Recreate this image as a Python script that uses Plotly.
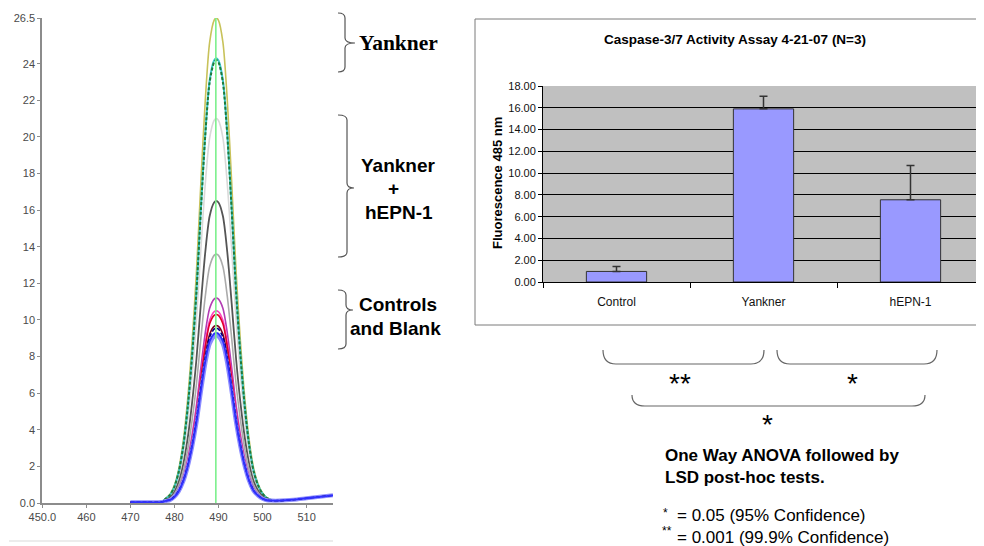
import plotly.graph_objects as go

# The page body adds an 8 px margin, so the figure is sized to fill the rest of the window.
OFF = 8
W, H = 984 - OFF, 546 - OFF

# ---------------- data: spectra (left panel) ----------------
wavelength = [470, 474, 477, 478, 479, 480, 481, 482, 483, 484, 485, 486, 487, 488, 489, 489.5,
              490, 491, 492, 493, 494, 495, 496, 497, 498, 499, 500, 501, 502, 504, 507,
              510, 513, 516]
head = [0.04, 0.04, 0.05]
tail = [0.13, 0.18, 0.26, 0.34, 0.42]

s_olive = [0.25, 0.48, 0.98, 1.88, 3.39, 5.67, 8.77, 12.64, 17.49, 22.00, 25.18, 26.37, 26.5, 26.37, 25.18,
           22.00, 17.49, 12.64, 8.77, 5.67, 3.39, 1.88, 1.04, 0.55, 0.29, 0.18]
s_cyan = [0.23, 0.44, 0.90, 1.73, 3.11, 5.20, 8.04, 11.59, 16.04, 20.17, 23.09, 24.18, 24.3, 24.18, 23.09,
          20.17, 16.04, 11.59, 8.04, 5.20, 3.11, 1.73, 0.96, 0.51, 0.27, 0.17]
s_green = [0.23, 0.44, 0.90, 1.72, 3.10, 5.18, 8.01, 11.54, 15.97, 20.09, 22.99, 24.08, 24.2, 24.08, 22.99,
           20.09, 15.97, 11.54, 8.01, 5.18, 3.10, 1.72, 0.96, 0.51, 0.27, 0.17]
s_ltgray = [0.21, 0.38, 0.78, 1.49, 2.69, 4.49, 6.95, 10.02, 13.86, 17.43, 19.95, 20.90, 21.0, 20.90, 19.95,
            17.43, 13.86, 10.02, 6.95, 4.49, 2.69, 1.49, 0.84, 0.45, 0.25, 0.16]
s_dkgray = [0.17, 0.30, 0.61, 1.17, 2.11, 3.53, 5.46, 7.87, 10.89, 13.70, 15.68, 16.42, 16.5, 16.42, 15.68,
            13.70, 10.89, 7.87, 5.46, 3.53, 2.11, 1.17, 0.67, 0.37, 0.21, 0.15]
s_gray = [0.15, 0.24, 0.50, 0.97, 1.74, 2.91, 4.50, 6.49, 8.98, 11.29, 12.92, 13.53, 13.6, 13.53, 12.92,
          11.29, 8.98, 6.49, 4.50, 2.91, 1.74, 0.97, 0.56, 0.31, 0.19, 0.14]
s_purple = [0.13, 0.20, 0.41, 0.80, 1.43, 2.40, 3.71, 5.34, 7.39, 9.30, 10.64, 11.14, 11.2, 11.14, 10.64,
            9.30, 7.39, 5.34, 3.71, 2.40, 1.43, 0.80, 0.47, 0.27, 0.17, 0.13]
s_magenta = [0.12, 0.19, 0.39, 0.75, 1.34, 2.25, 3.48, 5.01, 6.93, 8.72, 9.98, 10.45, 10.5, 10.45, 9.98,
             8.72, 6.93, 5.01, 3.48, 2.25, 1.34, 0.75, 0.45, 0.26, 0.16, 0.13]
s_red = [0.12, 0.19, 0.38, 0.73, 1.32, 2.20, 3.41, 4.91, 6.80, 8.55, 9.79, 10.25, 10.3, 10.25, 9.79,
         8.55, 6.80, 4.91, 3.41, 2.20, 1.32, 0.73, 0.44, 0.26, 0.16, 0.13]
s_maroon = [0.12, 0.17, 0.36, 0.69, 1.24, 2.08, 3.21, 4.63, 6.40, 8.05, 9.22, 9.65, 9.7, 9.65, 9.22,
            8.05, 6.40, 4.63, 3.21, 2.08, 1.24, 0.69, 0.42, 0.24, 0.16, 0.13]
s_navy = [0.12, 0.17, 0.35, 0.68, 1.22, 2.04, 3.16, 4.56, 6.30, 7.93, 9.07, 9.50, 9.55, 9.50, 9.07,
          7.93, 6.30, 4.56, 3.16, 2.04, 1.22, 0.68, 0.41, 0.24, 0.16, 0.13]
s_blue = [0.11, 0.17, 0.34, 0.66, 1.19, 1.99, 3.08, 4.44, 6.14, 7.72, 8.84, 9.25, 9.3, 9.25, 8.84,
          7.72, 6.14, 4.44, 3.08, 1.99, 1.19, 0.66, 0.40, 0.24, 0.15, 0.13]
s_ltblue = [0.11, 0.16, 0.34, 0.65, 1.17, 1.96, 3.03, 4.36, 6.04, 7.59, 8.69, 9.10, 9.15, 9.10, 8.69,
            7.59, 6.04, 4.36, 3.03, 1.96, 1.17, 0.65, 0.40, 0.23, 0.15, 0.13]

marker_wavelength = 489.4
spec_xticks = [450, 460, 470, 480, 490, 500, 510]
spec_xticktext = ["450.0", "460", "470", "480", "490", "500", "510"]
spec_yticks = [0, 2, 4, 6, 8, 10, 12, 14, 16, 18, 20, 22, 24, 26.5]
spec_yticktext = ["0.0", "2", "4", "6", "8", "10", "12", "14", "16", "18", "20", "22", "24", "26.5"]

# ---------------- data: caspase bars (right panel) ----------------
groups = ["Control", "Yankner", "hEPN-1"]
fluorescence = [0.97, 15.9, 7.55]
fluor_err = [0.45, 1.15, 3.15]

# ---------------- helpers (window pixels -> paper) ----------------
def px(x):
    return (x - OFF) / W

def py(y):
    return 1 - (y - OFF) / H

def pt(x, y):
    return f"{px(x):.5f},{py(y):.5f}"

fig = go.Figure()

series = [
    (s_olive, "#c8c25a", 1.6, "solid"),
    (s_ltgray, "#d9d9d9", 1.6, "solid"),
    (s_cyan, "#3fc8c8", 2.0, "solid"),
    (s_green, "#1f7a3a", 2.0, "3px,2px"),
    (s_dkgray, "#555555", 1.8, "solid"),
    (s_gray, "#ababab", 1.6, "solid"),
    (s_purple, "#b33cb3", 1.6, "solid"),
    (s_magenta, "#ff3fbf", 1.6, "solid"),
    (s_red, "#e0002a", 1.6, "solid"),
    (s_maroon, "#800020", 1.6, "solid"),
    (s_ltblue, "#8c8cff", 4.0, "solid"),
    (s_navy, "#000080", 1.6, "4px,2px"),
    (s_blue, "#3030ff", 1.8, "solid"),
]
for vals, col, lw, dash in series:
    fig.add_trace(go.Scatter(
        x=wavelength, y=head + vals + tail, mode="lines",
        line=dict(color=col, width=lw, dash=dash, shape="spline", smoothing=0.8),
        xaxis="x", yaxis="y", hoverinfo="skip"))

fig.add_trace(go.Scatter(
    x=[marker_wavelength, marker_wavelength], y=[0, spec_yticks[-1]], mode="lines",
    line=dict(color="#7cf08c", width=1.6), xaxis="x", yaxis="y", hoverinfo="skip"))

fig.add_trace(go.Bar(
    x=groups, y=fluorescence, width=0.41,
    marker=dict(color="#9999ff", line=dict(color="#333333", width=1)),
    error_y=dict(type="data", array=fluor_err, arrayminus=[0, 0, 0], symmetric=False,
                 color="#333333", thickness=1.5, width=4),
    xaxis="x2", yaxis="y2"))

shapes = []
shapes.append(dict(type="rect", xref="x2 domain", yref="y2 domain", x0=0, x1=1, y0=0, y1=1,
                   fillcolor="#c0c0c0", line=dict(width=0), layer="below"))
shapes.append(dict(type="rect", xref="paper", yref="paper", x0=px(475), x1=px(1000),
                   y0=py(325), y1=py(19), line=dict(color="#7a7a7a", width=1)))
shapes.append(dict(type="line", xref="paper", yref="paper", x0=px(9), x1=px(333),
                   y0=py(541), y1=py(541), line=dict(color="#ececec", width=2)))

def brace(x0, xv, xt, yt, ym, yb, r=5):
    return ("M " + pt(x0, yt) + " Q " + pt(xv, yt) + " " + pt(xv, yt + r) +
            " L " + pt(xv, ym - r) + " Q " + pt(xv, ym) + " " + pt(xt, ym) +
            " Q " + pt(xv, ym) + " " + pt(xv, ym + r) +
            " L " + pt(xv, yb - r) + " Q " + pt(xv, yb) + " " + pt(x0, yb))

for args in [(338, 345, 355, 13, 43, 72), (338, 347, 354, 115, 188, 257), (338, 346, 353, 290, 310, 349)]:
    shapes.append(dict(type="path", xref="paper", yref="paper", path=brace(*args),
                       line=dict(color="#555555", width=1.2)))

def under_bracket(x0, x1, yt, yb, r=13):
    return ("M " + pt(x0, yt) + " Q " + pt(x0, yb) + " " + pt(x0 + r, yb) +
            " L " + pt(x1 - r, yb) + " Q " + pt(x1, yb) + " " + pt(x1, yt))

for args in [(603, 764, 350, 364), (777, 937, 350, 364), (632, 925, 395, 406)]:
    shapes.append(dict(type="path", xref="paper", yref="paper", path=under_bracket(*args),
                       line=dict(color="#666666", width=1.2)))

SANS = "Liberation Sans, Arial, sans-serif"
SERIF = "Liberation Serif, Times New Roman, serif"

def ann(text, x, y, size, family=SANS, bold=False, xanchor="center", color="#000000", angle=0,
        align="center"):
    t = f"<b>{text}</b>" if bold else text
    return dict(text=t, x=px(x), y=py(y), xref="paper", yref="paper", showarrow=False,
                xanchor=xanchor, yanchor="middle", textangle=angle, align=align,
                font=dict(family=family, size=size, color=color))

annotations = [
    ann("Yankner", 357, 43, 21.5, family=SERIF, bold=True, xanchor="left"),
    ann("Yankner", 398, 165, 19, bold=True),
    ann("+", 393, 189, 19, bold=True),
    ann("hEPN-1", 399, 212, 19, bold=True),
    ann("Controls", 398, 304, 19, bold=True),
    ann("and Blank", 395, 328, 19, bold=True),
    ann("Caspase-3/7 Activity Assay 4-21-07 (N=3)", 735, 40, 13.5, bold=True),
    ann("Fluorescence 485 nm", 497, 183, 13, bold=True, angle=-90),
    ann("**", 680, 383, 28),
    ann("*", 852, 383, 28),
    ann("*", 767, 424, 28),
    ann("One Way ANOVA followed by<br>LSD post-hoc tests.", 663, 466, 17, bold=True,
        xanchor="left", align="left"),
    ann("*", 665, 513, 12),
    ann("**", 667, 531, 12),
    ann("= 0.05 (95% Confidence)<br>= 0.001 (99.9% Confidence)", 675, 526, 17,
        xanchor="left", align="left"),
]

axis_common = dict(automargin=False, zeroline=False)

fig.update_layout(
    width=W, height=H, autosize=False,
    margin=dict(l=0, r=0, t=0, b=0, pad=0, autoexpand=False),
    paper_bgcolor="white", plot_bgcolor="white", showlegend=False,
    xaxis=dict(domain=[px(42.3), px(333)], range=[450, 516], anchor="y",
               tickvals=spec_xticks, ticktext=spec_xticktext,
               showline=True, linecolor="#8c8c8c", linewidth=2, ticks="outside", ticklen=3,
               tickcolor="#8c8c8c", showgrid=False,
               tickfont=dict(family=SANS, size=11, color="#4a4a4a"), **axis_common),
    yaxis=dict(domain=[py(503), py(18)], range=[0, 26.5], anchor="x",
               tickvals=spec_yticks, ticktext=spec_yticktext,
               showline=True, linecolor="#8c8c8c", linewidth=2, ticks="outside", ticklen=3,
               tickcolor="#8c8c8c", showgrid=False,
               tickfont=dict(family=SANS, size=11, color="#4a4a4a"), **axis_common),
    xaxis2=dict(domain=[px(543), 1.0], type="category", range=[-0.5, 2.5], anchor="y2",
                showline=True, linecolor="#000000", linewidth=1, ticks="outside",
                tickson="boundaries", ticklen=5, tickcolor="#000000", showgrid=False,
                ticklabelstandoff=9,
                tickfont=dict(family=SANS, size=12, color="#111111"), **axis_common),
    yaxis2=dict(domain=[py(282), py(86)], range=[0, 18], dtick=2, tickformat=".2f",
                anchor="x2", showgrid=True, gridcolor="#000000", gridwidth=1,
                showline=True, linecolor="#000000", linewidth=1, ticks="outside", ticklen=4,
                tickcolor="#000000",
                tickfont=dict(family=SANS, size=11, color="#111111"), **axis_common),
    shapes=shapes, annotations=annotations,
)

fig.write_html("out.html")
